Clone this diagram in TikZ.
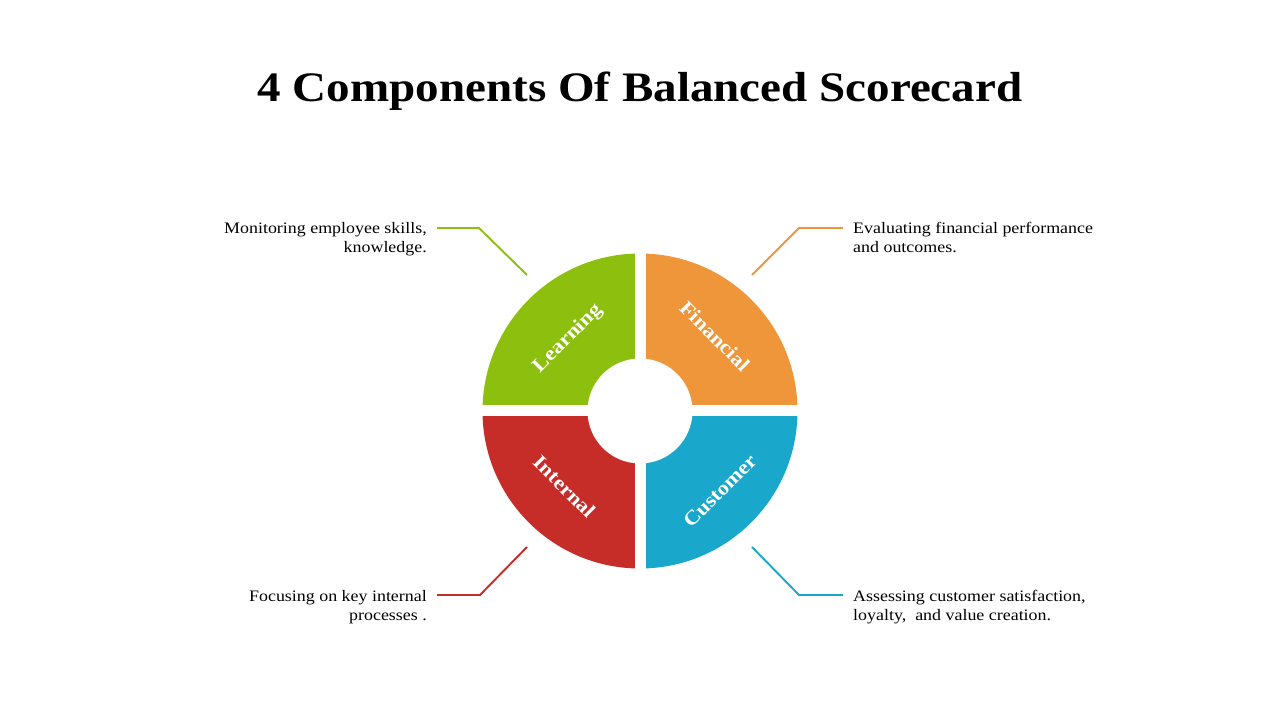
\documentclass[tikz,border=0pt]{standalone}
\usepackage{fontspec}
\setmainfont{Liberation Serif}[FakeStretch=1.12]
\usetikzlibrary{calc}
\definecolor{fincol}{RGB}{240,150,58}
\definecolor{learncol}{RGB}{141,191,14}
\definecolor{intcol}{RGB}{198,44,40}
\definecolor{custcol}{RGB}{25,168,203}

\begin{document}
\begin{tikzpicture}[x=1pt,y=1pt,
  seglabel/.style={text=white,font=\bfseries\fontsize{20}{24}\selectfont},
  desc/.style={font=\fontsize{16}{18.5}\selectfont,inner xsep=10pt,inner ysep=0pt},
  leader/.style={line width=1.9pt}]
\useasboundingbox (0,0) rectangle (1280,720);
\node[font=\bfseries\fontsize{42}{48}\selectfont,anchor=base] (title) at (640,618) {4 Components Of Balanced Scorecard};
\coordinate (hub) at (640,309);
\foreach \a/\c in {0/fincol,90/learncol,180/intcol,270/custcol}
  \fill[\c] (hub) -- ++(\a:157.5) arc[start angle=\a,end angle=\a+90,radius=157.5] -- cycle;
\fill[white] (hub) ++(-5.5,-170) rectangle ++(11,340);
\fill[white] (hub) ++(-170,-5.5) rectangle ++(340,11);
\fill[white] (hub) circle[radius=52.5];
\foreach \n/\a/\d/\r/\t in {fin/45/106/-45/Financial,learn/135/102/45/Learning,int/225/107/-45/Internal,cust/315/113/45/Customer}
  \node[seglabel,rotate=\r] (\n) at ($(hub)+(\a:\d)$) {\t};
\coordinate (learnpt) at (527,445);
\coordinate (learnbend) at (479,492);
\coordinate (finpt) at (752,445);
\coordinate (finbend) at (799,492);
\coordinate (intpt) at (527,173);
\coordinate (intbend) at (480,125);
\coordinate (custpt) at (752,173);
\coordinate (custbend) at (799,125);
\node[desc,align=right,anchor=east] (learntxt) at (437,481) {Monitoring employee skills,\\knowledge.};
\node[desc,align=left,anchor=west] (fintxt) at (843,482.5) {Evaluating financial performance\\and outcomes.};
\node[desc,align=right,anchor=east] (inttxt) at (437,113) {Focusing on key internal\\processes .};
\node[desc,align=left,anchor=west] (custtxt) at (843,113) {Assessing customer satisfaction,\\loyalty, \ and value creation.};
\draw[leader,learncol] (learnpt) -- (learnbend) -- (learnbend -| learntxt.east);
\draw[leader,fincol] (finpt) -- (finbend) -- (finbend -| fintxt.west);
\draw[leader,intcol] (intpt) -- (intbend) -- (intbend -| inttxt.east);
\draw[leader,custcol] (custpt) -- (custbend) -- (custbend -| custtxt.west);
\end{tikzpicture}
\end{document}
